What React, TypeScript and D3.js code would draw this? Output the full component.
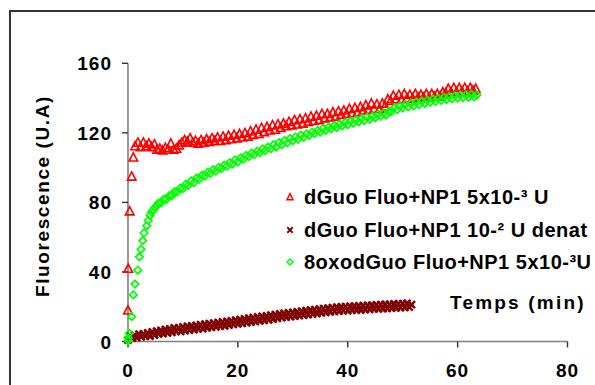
import React from "react";
import * as d3 from "d3";

// ---------- DATA ----------
const xTickValues = [0, 20, 40, 60, 80];
const yTickValues = [0, 40, 80, 120, 160];

const seriesNames = [
  "dGuo Fluo+NP1 5x10-³ U",
  "dGuo Fluo+NP1 10-² U denat",
  "8oxodGuo Fluo+NP1 5x10-³U",
];

// red triangles: dGuo Fluo+NP1 5x10-3 U
const redInitT = [0, 0.05, 0.3, 0.67, 0.97];
const redInitV = [18, 42, 75, 95, 106];
const redStart = 1.3;
const redStep = 0.5;
const redV = [
  112.5, 114.5, 112, 114.5, 112.5, 114, 112, 113.5, 110.5, 111,
  110, 111.5, 110.5, 114, 110.5, 111, 113, 114.5, 116, 115,
  117, 114.5, 115.5, 114, 116, 114.5, 116.5, 115, 117, 115.5,
  117.5, 115.5, 118, 116, 118.5, 116.5, 119, 117, 119.5, 117.5,
  120, 118, 121, 119, 122, 119.5, 123, 120.5, 123.5, 121.5,
  124.5, 122, 125, 123, 125.5, 124, 126.5, 124.5, 127.5, 125,
  128, 125.5, 128.5, 126.5, 129.5, 127, 130, 127.5, 131, 128.5,
  131, 129, 132, 129.5, 132.5, 130.5, 133, 131, 134, 131.5,
  134.5, 132, 135, 133, 136, 133.5, 137, 134, 136.5, 134,
  137, 135.5, 139.5, 138.5, 141.5, 139.5, 142, 139.5, 142.5, 140,
  142, 140, 142.5, 140.5, 142, 140.5, 142.5, 140.5, 142.5, 141,
  142.5, 141, 143.5, 143, 145.5, 143.5, 146, 143.5, 146, 144,
  146, 144, 146, 144.5, 145.5,
];

// maroon crosses: dGuo Fluo+NP1 10-2 U denat
const brownStart = 0;
const brownStep = 0.4;
const brownV = [
  0.8, 3.1, 1.9, 3.6, 2.2, 4.3, 2.6, 4.4, 3.1, 5.0,
  3.1, 5.5, 3.7, 6.0, 4.4, 6.4, 4.6, 6.9, 5.0, 7.3,
  5.3, 7.8, 5.9, 7.9, 5.8, 8.4, 6.3, 8.7, 6.5, 9.0,
  6.8, 9.3, 7.2, 9.7, 7.4, 10.0, 7.9, 10.3, 8.2, 10.6,
  8.4, 10.9, 8.8, 11.3, 9.0, 11.6, 9.4, 11.9, 9.8, 12.3,
  10.1, 12.6, 10.4, 13.0, 10.8, 13.4, 11.1, 13.7, 11.5, 14.1,
  11.9, 14.4, 12.2, 14.8, 12.5, 15.2, 12.9, 15.5, 13.3, 15.9,
  13.7, 16.2, 14.0, 16.5, 14.3, 16.8, 14.6, 17.1, 14.9, 17.4,
  15.2, 17.7, 15.5, 18.0, 15.8, 18.3, 16.1, 18.6, 16.4, 18.9,
  16.7, 19.2, 17.0, 19.5, 17.3, 19.8, 17.5, 19.9, 17.7, 20.0,
  17.8, 20.2, 18.0, 20.3, 18.1, 20.5, 18.2, 20.6, 18.4, 20.8,
  18.5, 20.9, 18.7, 21.0, 18.8, 21.2, 18.9, 21.3, 19.1, 21.4,
  19.2, 21.6, 19.3, 21.7, 19.5, 21.8, 19.6, 21.9, 19.8, 21.2,
];

// green diamonds: 8oxodGuo Fluo+NP1 5x10-3U
const greenInitT = [0, 0.05, 0.24, 0.67, 0.97, 1.28, 1.77, 2.06, 2.37, 2.68, 2.92, 3.41, 3.7, 4.01, 4.3, 4.61, 4.9, 5.23];
const greenInitV = [0.5, 2, 4.7, 14.3, 26.8, 33, 41, 48.7, 53, 58, 62.4, 66.6, 69.6, 72.5, 74.5, 75.8, 77, 78.1];
const greenStart = 5.5;
const greenStep = 0.5;
const greenV = [
  79.5, 79.8, 81.8, 81.8, 83.8, 84, 86.2, 86.1, 88.2, 88,
  90.5, 89.8, 92.4, 91.4, 94, 93.4, 95.7, 95.2, 97.4, 96.7,
  98.8, 98, 100.1, 99.4, 101.4, 100.8, 102.9, 102.1, 104.4, 103.4,
  105.6, 104.9, 107, 106.3, 108.3, 107.5, 109.4, 108.7, 110.7, 109.8,
  111.8, 110.8, 113.2, 111.9, 114.4, 113.2, 115.6, 114.3, 116.7, 115.4,
  117.6, 116.3, 118.7, 117.4, 119.4, 118.5, 120.4, 119.6, 121.4, 120.5,
  122.4, 121.4, 123.3, 122.3, 124.2, 123.1, 125, 124, 125.9, 124.7,
  126.8, 125.5, 127.5, 126.4, 128.2, 127.1, 129, 127.8, 129.7, 128.7,
  130.6, 129.5, 131.4, 130.3, 132.4, 132.4, 134.4, 133.4, 135.4, 134.3,
  136.3, 135, 137, 135.6, 137.7, 136.3, 138.3, 136.9, 138.9, 137.5,
  139.4, 138.1, 139.9, 138.7, 140.4, 139.2, 140.9, 139.6, 141.3, 140,
  141.7, 140.3, 141.9, 140.4, 142.1, 140.8, 141.8,
];

type Pt = { t: number; v: number };
function build(initT: number[], initV: number[], start: number, step: number, vals: number[]): Pt[] {
  const a: Pt[] = initT.map((t, i) => ({ t, v: initV[i] }));
  vals.forEach((v, i) => a.push({ t: start + i * step, v }));
  return a;
}

const redPts = build(redInitT, redInitV, redStart, redStep, redV);
const brownPts = build([], [], brownStart, brownStep, brownV);
const greenPts = build(greenInitT, greenInitV, greenStart, greenStep, greenV);

// ---------- STYLE ----------
const FONT = "Arial, 'Liberation Sans', sans-serif";
const RED = "#FF0000";
const MAROON = "#800000";
const LIME = "#00FF00";

const x = d3.scaleLinear().domain([0, 80]).range([128, 567.5]);
const y = d3.scaleLinear().domain([0, 160]).range([341.5, 63.3]);

function triPath(cx: number, cy: number, s: number) {
  const h = s * 0.9;
  return `M${cx},${cy - h / 2 - 0.6}L${cx + s / 2},${cy + h / 2}L${cx - s / 2},${cy + h / 2}Z`;
}
function diaPath(cx: number, cy: number, s: number) {
  const r = s / 2;
  return `M${cx},${cy - r}L${cx + r},${cy}L${cx},${cy + r}L${cx - r},${cy}Z`;
}
function crossPath(cx: number, cy: number, s: number) {
  const r = s / 2;
  return `M${cx - r},${cy - r}L${cx + r},${cy + r}M${cx - r},${cy + r}L${cx + r},${cy - r}`;
}

export default function App() {
  const legendX = 290;
  const legendRows = [197, 230, 262];
  return (
    <svg
      width={595}
      height={385}
      style={{ position: "absolute", left: 0, top: 0, background: "#fff" }}
      fontFamily={FONT}
    >
      <rect x={0} y={0} width={595} height={385} fill="#fff" />
      <rect x={10} y={11} width={620} height={420} fill="none" stroke="#333" strokeWidth={2} />

      {/* axes */}
      <line x1={x(0)} x2={x(0)} y1={y(160)} y2={y(0)} stroke="#808080" strokeWidth={1.6} />
      <line x1={x(0)} x2={x(80)} y1={y(0)} y2={y(0)} stroke="#808080" strokeWidth={1.6} />
      {yTickValues.map((v) => (
        <g key={"y" + v}>
          <line x1={x(0) - 6} x2={x(0)} y1={y(v)} y2={y(v)} stroke="#333" strokeWidth={1.4} />
          <text x={112} y={y(v) + 7} textAnchor="end" fontSize={19} fontWeight="bold" letterSpacing={1}>
            {v}
          </text>
        </g>
      ))}
      {xTickValues.map((v) => (
        <g key={"x" + v}>
          <line x1={x(v)} x2={x(v)} y1={y(0)} y2={y(0) + 6} stroke="#333" strokeWidth={1.4} />
          <text x={x(v)} y={377} textAnchor="middle" fontSize={19} fontWeight="bold" letterSpacing={1}>
            {v}
          </text>
        </g>
      ))}

      {/* axis titles */}
      <text
        transform={`translate(49,196) rotate(-90)`}
        textAnchor="middle"
        fontSize={19}
        fontWeight="bold"
        letterSpacing={1.6}
      >
        Fluorescence (U.A)
      </text>
      <text x={450} y={309} fontSize={19} fontWeight="bold" letterSpacing={2.2}>
        Temps (min)
      </text>

      {/* series */}
      <g>
        {redPts.map((p, i) => (
          <path key={"r" + i} d={triPath(x(p.t), y(p.v), 8.5)} fill="none" stroke={RED} strokeWidth={1.6} />
        ))}
      </g>
      <g>
        {brownPts.map((p, i) => (
          <path key={"b" + i} d={crossPath(x(p.t), y(p.v), 7)} fill="none" stroke={MAROON} strokeWidth={2.5} />
        ))}
      </g>
      <g>
        {greenPts.map((p, i) => (
          <path key={"g" + i} d={diaPath(x(p.t), y(p.v), 7.5)} fill="none" stroke={LIME} strokeWidth={1.7} />
        ))}
      </g>

      {/* legend */}
      <path d={triPath(legendX, legendRows[0], 6)} fill="none" stroke={RED} strokeWidth={1.5} />
      <path d={crossPath(legendX, legendRows[1], 5.5)} fill="none" stroke={MAROON} strokeWidth={1.8} />
      <path d={diaPath(legendX, legendRows[2], 6)} fill="none" stroke={LIME} strokeWidth={1.5} />
      {seriesNames.map((n, i) => (
        <text key={n} x={304} y={legendRows[i] + 7} fontSize={20} fontWeight="bold" letterSpacing={0.5}>
          {n}
        </text>
      ))}
    </svg>
  );
}
